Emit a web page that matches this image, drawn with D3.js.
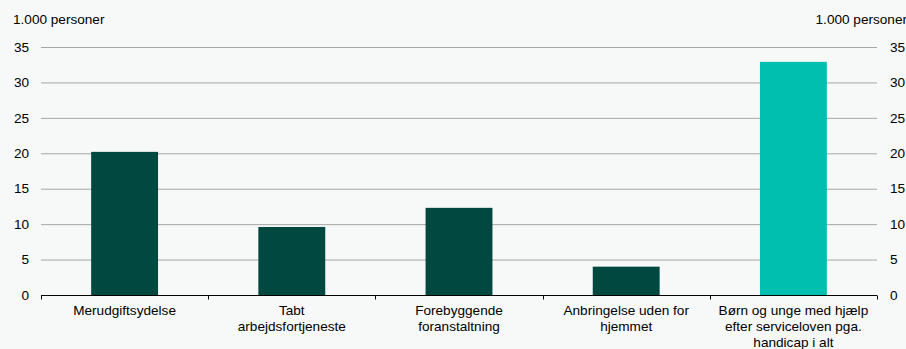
<!DOCTYPE html>
<html><head><meta charset="utf-8">
<script src="https://cdn.jsdelivr.net/npm/d3@7"></script>
<style>
html,body{margin:0;padding:0;background:#f7f9f8;}
svg{display:block;font-family:"Liberation Sans",Arial,sans-serif;}
</style></head>
<body>
<svg id="c" width="906" height="349"></svg>
<script>
const categories = [
  ["Merudgiftsydelse"],
  ["Tabt","arbejdsfortjeneste"],
  ["Forebyggende","foranstaltning"],
  ["Anbringelse uden for","hjemmet"],
  ["Børn og unge med hjælp","efter serviceloven pga.","handicap i alt"]
];
const values = [20.2, 9.6, 12.3, 4.0, 32.9];
const highlight = [false, false, false, false, true];
const yTicks = [0, 5, 10, 15, 20, 25, 30, 35];
const unitLabel = "1.000 personer";

const svg = d3.select("#c");
const W = 906, H = 349;
const m = {left: 41, right: 29, top: 47, bottom: 54};
const x = d3.scaleBand().domain(d3.range(categories.length))
  .range([m.left, W - m.right]).paddingInner(0.6).paddingOuter(0.3);
const y = d3.scaleLinear().domain([0, 35]).range([H - m.bottom, m.top]);

// gridlines
svg.append("g").selectAll("line").data(yTicks.filter(d => d > 0)).join("line")
  .attr("x1", m.left).attr("x2", W - m.right)
  .attr("y1", d => y(d) + 0.5).attr("y2", d => y(d) + 0.5)
  .attr("stroke", "#a6a6a6").attr("stroke-width", 1);

// bars
svg.append("g").selectAll("rect").data(values).join("rect")
  .attr("x", (d, i) => x(i)).attr("width", x.bandwidth())
  .attr("y", d => y(d)).attr("height", d => y(0) - y(d))
  .attr("fill", (d, i) => highlight[i] ? "#00bfae" : "#004840");

// y labels
const fs = 13.6;
svg.append("g").selectAll("text").data(yTicks).join("text")
  .attr("x", 29).attr("y", d => y(d)).attr("dy", "0.35em")
  .attr("text-anchor", "end").attr("font-size", fs).attr("fill", "#000")
  .text(d => d);
svg.append("g").selectAll("text").data(yTicks).join("text")
  .attr("x", 890).attr("y", d => y(d)).attr("dy", "0.35em")
  .attr("text-anchor", "start").attr("font-size", fs).attr("fill", "#000")
  .text(d => d);

svg.append("text").attr("x", 13).attr("y", 24).attr("font-size", fs).text(unitLabel);
svg.append("text").attr("x", 907).attr("y", 24).attr("text-anchor", "end").attr("font-size", fs).text(unitLabel);

// x axis line and ticks
const y0 = Math.round(y(0)) + 0.5;
svg.append("line").attr("x1", m.left).attr("x2", W - m.right)
  .attr("y1", y0).attr("y2", y0).attr("stroke", "#000").attr("stroke-width", 1);
const bounds = d3.range(categories.length + 1).map(i =>
  i < categories.length ? x(i) - x.step() * x.paddingInner() / 2 : W - m.right);
bounds[0] = m.left;
svg.append("g").selectAll("line").data(bounds).join("line")
  .attr("x1", d => Math.round(d) + 0.5).attr("x2", d => Math.round(d) + 0.5)
  .attr("y1", y0).attr("y2", y0 + 4).attr("stroke", "#000");

// category labels
const lab = svg.append("g").selectAll("text").data(categories).join("text")
  .attr("text-anchor", "middle").attr("font-size", fs)
  .attr("x", (d, i) => x(i) + x.bandwidth() / 2).attr("y", 315);
lab.selectAll("tspan").data(d => d).join("tspan")
  .attr("x", function() { return d3.select(this.parentNode).attr("x"); })
  .attr("dy", (d, i) => i === 0 ? 0 : 16).text(d => d);
</script>
</body></html>
